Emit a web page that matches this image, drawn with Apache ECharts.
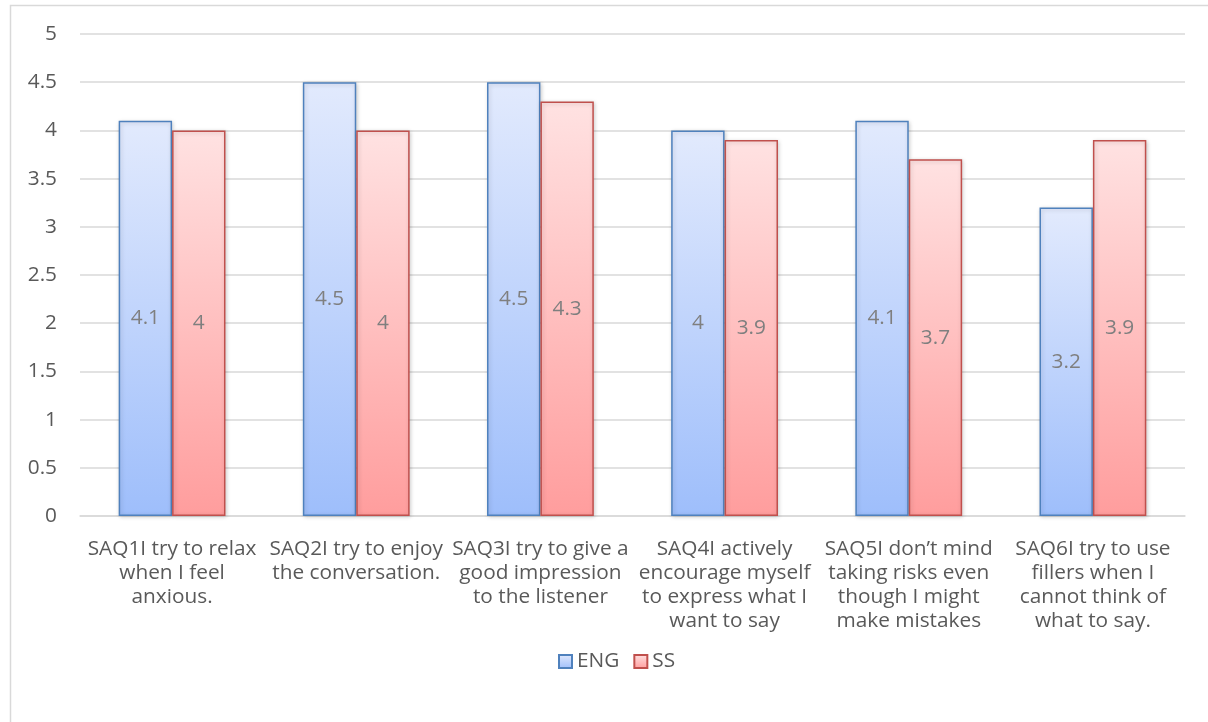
<!DOCTYPE html>
<html>
<head>
<meta charset="utf-8">
<script src="https://cdn.jsdelivr.net/npm/echarts@6/dist/echarts.min.js"></script>
<style>
  html, body { margin: 0; padding: 0; background: #ffffff; }
  #chart { width: 1208px; height: 722px; }
</style>
</head>
<body>
<div id="chart"></div>
<script>
// Survey items (wrapped the way they are shown under each group)
const categories = [
  'SAQ1I try to relax\nwhen I feel\nanxious.',
  'SAQ2I try to enjoy\nthe conversation.',
  'SAQ3I try to give a\ngood impression\nto the listener',
  'SAQ4I actively\nencourage myself\nto express what I\nwant to say',
  'SAQ5I don\u2019t mind\ntaking risks even\nthough I might\nmake mistakes',
  'SAQ6I try to use\nfillers when I\ncannot think of\nwhat to say.'
];
const engValues = [4.1, 4.5, 4.5, 4.0, 4.1, 3.2];
const ssValues = [4.0, 4.0, 4.3, 3.9, 3.7, 3.9];
const yTicks = [0, 0.5, 1, 1.5, 2, 2.5, 3, 3.5, 4, 4.5, 5];

const FONT = 'Open Sans';
const TEXT = '#595959';
const SIZE = 20.8;

const grad = (top, bottom) => new echarts.graphic.LinearGradient(0, 0, 0, 1, [
  { offset: 0, color: top }, { offset: 1, color: bottom }
]);

const chart = echarts.init(document.getElementById('chart'), null, { renderer: 'canvas' });

const labelStyle = {
  show: true,
  position: 'inside',
  color: '#7f7f7f',
  fontFamily: FONT,
  fontSize: SIZE,
  formatter: p => String(p.value)
};

chart.setOption({
  animation: false,
  textStyle: { fontFamily: FONT },
  graphic: [{
    type: 'rect',
    shape: { x: 10.5, y: 5.5, width: 1300, height: 800 },
    style: { fill: 'none', stroke: '#d9d9d9', lineWidth: 1.5 },
    silent: true,
    z: -10
  }],
  grid: { left: 80, right: 23, top: 34, bottom: 206 },
  legend: {
    bottom: 45,
    left: 553,
    itemWidth: 13,
    itemHeight: 13,
    itemGap: 14,
    icon: 'rect',
    textStyle: { color: TEXT, fontFamily: FONT, fontSize: SIZE },
    data: ['ENG', 'SS']
  },
  xAxis: {
    type: 'category',
    data: categories,
    axisTick: { show: false },
    axisLine: { show: true, lineStyle: { color: '#d9d9d9', width: 1.5 } },
    axisLabel: {
      interval: 0,
      color: TEXT,
      fontFamily: FONT,
      fontSize: SIZE,
      lineHeight: 24,
      margin: 21,
      align: 'center'
    }
  },
  yAxis: {
    type: 'value',
    min: yTicks[0],
    max: yTicks[yTicks.length - 1],
    interval: 0.5,
    axisLine: { show: false },
    axisTick: { show: false },
    splitLine: { lineStyle: { color: '#d9d9d9', width: 1.5 } },
    axisLabel: { color: TEXT, fontFamily: FONT, fontSize: SIZE, margin: 23 }
  },
  series: [
    {
      name: 'ENG',
      type: 'bar',
      data: engValues,
      barGap: '0%',
      barCategoryGap: '42%',
      itemStyle: {
        color: grad('#e2eafd', '#9ebefb'),
        borderColor: '#4f81bd',
        borderWidth: 1.5,
        shadowColor: 'rgba(0,0,0,0.18)',
        shadowBlur: 4,
        shadowOffsetX: 1,
        shadowOffsetY: 1
      },
      label: labelStyle
    },
    {
      name: 'SS',
      type: 'bar',
      data: ssValues,
      itemStyle: {
        color: grad('#ffe2e2', '#ff9d9d'),
        borderColor: '#c0504d',
        borderWidth: 1.5,
        shadowColor: 'rgba(0,0,0,0.18)',
        shadowBlur: 4,
        shadowOffsetX: 1,
        shadowOffsetY: 1
      },
      label: labelStyle
    }
  ]
});
</script>
</body>
</html>
